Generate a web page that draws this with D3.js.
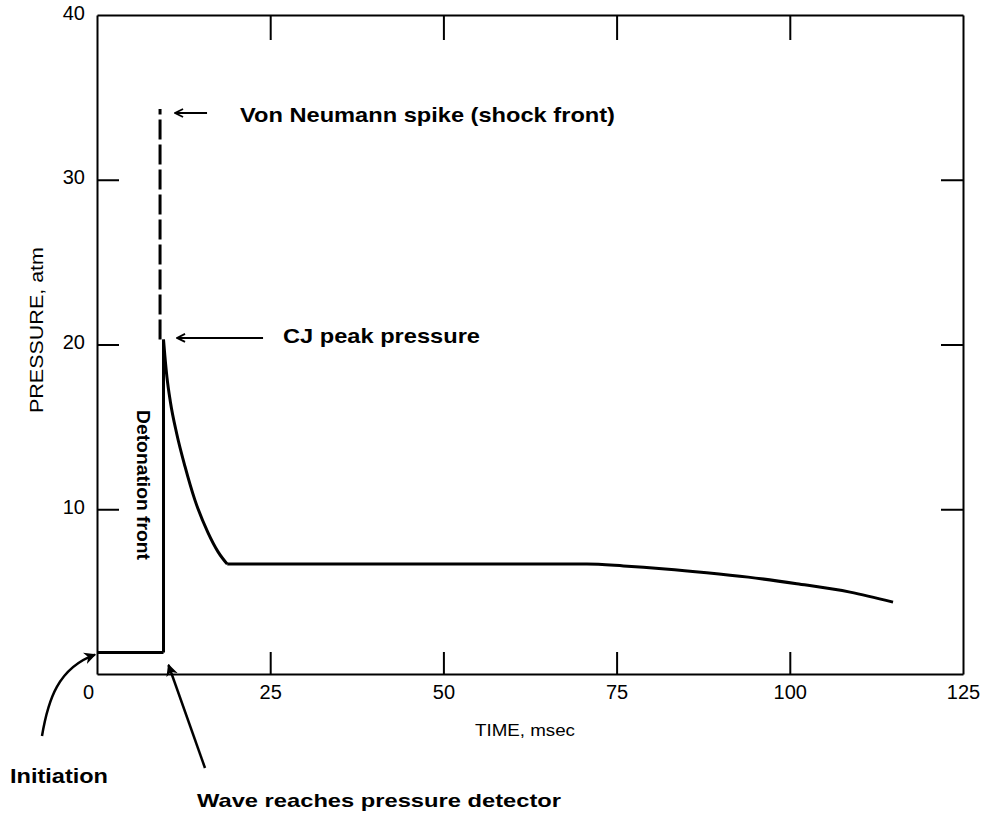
<!DOCTYPE html>
<html>
<head>
<meta charset="utf-8">
<script src="https://cdn.jsdelivr.net/npm/d3@7"></script>
<style>
  html, body { margin: 0; padding: 0; background: #fff; }
  svg { display: block; }
  text { fill: #000; font-family: "Liberation Sans", Arial, sans-serif; }
</style>
</head>
<body>
<svg id="chart" width="984" height="814"></svg>
<script>
// ---- data ----
const timeTicks = [0, 25, 50, 75, 100, 125];
const pressureTicks = [10, 20, 30, 40];
const innerTimeTicks = [25, 50, 75, 100];
const innerPressureTicks = [10, 20, 30];

const baseTime = [0, 9.6];
const basePressure = [1.3, 1.3];

const frontTime = [9.6, 9.6];
const frontPressure = [1.3, 20.3];

const spikeTime = [9.1, 9.1];
const spikePressure = [20.3, 34.3];

const decayTime = [9.6, 9.8, 10.1, 10.6, 11.5, 12.7, 14.1, 16.0, 17.5, 18.8];
const decayPressure = [20.3, 19.3, 18.0, 16.5, 14.6, 12.6, 10.6, 8.6, 7.4, 6.67];

const tailTime = [18.8, 30, 50, 70.7, 76, 82, 88, 94, 101, 108.7, 114.9];
const tailPressure = [6.67, 6.67, 6.67, 6.67, 6.56, 6.38, 6.15, 5.88, 5.48, 4.97, 4.36];

// ---- layout ----
const svg = d3.select("#chart");
const x = d3.scaleLinear().domain([0, 125]).range([97, 963]);
const y = d3.scaleLinear().domain([0, 40]).range([674, 15]);

const zip = (a, b) => a.map((v, i) => [v, b[i]]);

// markers
const defs = svg.append("defs");
defs.append("marker").attr("id", "open").attr("viewBox", "0 0 10 10")
  .attr("refX", 9).attr("refY", 5).attr("markerWidth", 10).attr("markerHeight", 10)
  .attr("markerUnits", "userSpaceOnUse").attr("orient", "auto")
  .append("path").attr("d", "M1,1 L9,5 L1,9").attr("fill", "none")
  .attr("stroke", "#000").attr("stroke-width", 1.8);
defs.append("marker").attr("id", "filled").attr("viewBox", "0 0 10 10")
  .attr("refX", 9).attr("refY", 5).attr("markerWidth", 12).attr("markerHeight", 12)
  .attr("markerUnits", "userSpaceOnUse").attr("orient", "auto")
  .append("path").attr("d", "M0,0 L10,5 L0,10 L3,5 Z").attr("fill", "#000");

// ---- axes ----
const axisStyle = g => {
  g.select(".domain").attr("stroke", "#000").attr("stroke-width", 2);
  g.selectAll(".tick line").attr("stroke", "#000").attr("stroke-width", 2);
  g.selectAll(".tick text").attr("font-size", 20).attr("font-family", "Liberation Sans, Arial, sans-serif");
};

svg.append("g").attr("transform", `translate(0,${y(0)})`)
  .call(d3.axisBottom(x).tickValues(timeTicks).tickSize(-22).tickSizeOuter(0).tickPadding(11).tickFormat(d3.format("d")))
  .call(axisStyle)
  .call(g => g.selectAll(".tick").filter(d => d === 0 || d === 125).select("line").remove())
  .call(g => g.selectAll(".tick").filter(d => d === 0).select("text").attr("dx", -9));

svg.append("g").attr("transform", `translate(0,${y(40)})`)
  .call(d3.axisTop(x).tickValues(innerTimeTicks).tickSize(-25).tickSizeOuter(0).tickFormat(""))
  .call(axisStyle);

svg.append("g").attr("transform", `translate(${x(0)},0)`)
  .call(d3.axisLeft(y).tickValues(pressureTicks).tickSize(-22).tickSizeOuter(0).tickPadding(12).tickFormat(d3.format("d")))
  .call(axisStyle)
  .call(g => g.selectAll(".tick").filter(d => d === 40).select("line").remove())
  .call(g => g.selectAll(".tick text").attr("dy", "0.2em"));

svg.append("g").attr("transform", `translate(${x(125)},0)`)
  .call(d3.axisRight(y).tickValues(innerPressureTicks).tickSize(-22).tickSizeOuter(0).tickFormat(""))
  .call(axisStyle);

// axis titles
svg.append("text").attr("x", 525).attr("y", 736).attr("text-anchor", "middle")
  .attr("font-size", 17).attr("textLength", 100).attr("lengthAdjust", "spacingAndGlyphs")
  .text("TIME, msec");
svg.append("text").attr("transform", "translate(43,330) rotate(-90)").attr("text-anchor", "middle")
  .attr("font-size", 19).attr("textLength", 166).attr("lengthAdjust", "spacingAndGlyphs")
  .text("PRESSURE, atm");

// ---- series ----
const line = d3.line().x(d => x(d[0])).y(d => y(d[1]));
const smooth = d3.line().x(d => x(d[0])).y(d => y(d[1])).curve(d3.curveMonotoneX);

svg.append("path").datum(zip(baseTime, basePressure)).attr("d", line)
  .attr("fill", "none").attr("stroke", "#000").attr("stroke-width", 3);
svg.append("path").datum(zip(frontTime, frontPressure)).attr("d", line)
  .attr("fill", "none").attr("stroke", "#000").attr("stroke-width", 3);
svg.append("path").datum(zip(spikeTime, spikePressure)).attr("d", line)
  .attr("fill", "none").attr("stroke", "#000").attr("stroke-width", 3)
  .attr("stroke-dasharray", "20,5");
svg.append("path").datum(zip(decayTime, decayPressure)).attr("d", smooth)
  .attr("fill", "none").attr("stroke", "#000").attr("stroke-width", 3);
svg.append("path").datum(zip(tailTime, tailPressure)).attr("d", smooth)
  .attr("fill", "none").attr("stroke", "#000").attr("stroke-width", 3);

// ---- annotations ----
// Von Neumann spike
const vnP = spikePressure[1] - 0.25;
svg.append("line").attr("x1", x(spikeTime[0]) + 47).attr("x2", x(spikeTime[0]) + 15)
  .attr("y1", y(vnP)).attr("y2", y(vnP))
  .attr("stroke", "#000").attr("stroke-width", 2).attr("marker-end", "url(#open)");
svg.append("text").attr("x", 240).attr("y", y(vnP) + 9)
  .attr("font-size", 21).attr("font-weight", "bold")
  .attr("textLength", 375).attr("lengthAdjust", "spacingAndGlyphs")
  .text("Von Neumann spike (shock front)");

// CJ peak
const cjP = frontPressure[1] + 0.1;
svg.append("line").attr("x1", x(spikeTime[0]) + 103).attr("x2", x(spikeTime[0]) + 17)
  .attr("y1", y(cjP)).attr("y2", y(cjP))
  .attr("stroke", "#000").attr("stroke-width", 2).attr("marker-end", "url(#open)");
svg.append("text").attr("x", 283).attr("y", y(cjP) + 5)
  .attr("font-size", 21).attr("font-weight", "bold")
  .attr("textLength", 197).attr("lengthAdjust", "spacingAndGlyphs")
  .text("CJ peak pressure");

// Detonation front
svg.append("text").attr("transform", `translate(137,485) rotate(90)`).attr("text-anchor", "middle")
  .attr("font-size", 18).attr("font-weight", "bold")
  .attr("textLength", 150).attr("lengthAdjust", "spacingAndGlyphs")
  .text("Detonation front");

// Initiation
const iTipX = x(baseTime[0]) - 2, iTipY = y(basePressure[0]) + 2;
svg.append("path")
  .attr("d", `M42,736 C48,700 58,668 ${iTipX},${iTipY}`)
  .attr("fill", "none").attr("stroke", "#000").attr("stroke-width", 2.5)
  .attr("marker-end", "url(#filled)");
svg.append("text").attr("x", 10).attr("y", 783)
  .attr("font-size", 21).attr("font-weight", "bold")
  .attr("textLength", 98).attr("lengthAdjust", "spacingAndGlyphs")
  .text("Initiation");

// Wave reaches detector
const wTipX = x(frontTime[0]) + 5, wTipY = y(0) - 9;
svg.append("line").attr("x1", 205).attr("y1", 768).attr("x2", wTipX).attr("y2", wTipY)
  .attr("stroke", "#000").attr("stroke-width", 2.5).attr("marker-end", "url(#filled)");
svg.append("text").attr("x", 197).attr("y", 807)
  .attr("font-size", 19).attr("font-weight", "bold")
  .attr("textLength", 364).attr("lengthAdjust", "spacingAndGlyphs")
  .text("Wave reaches pressure detector");
</script>
</body>
</html>
